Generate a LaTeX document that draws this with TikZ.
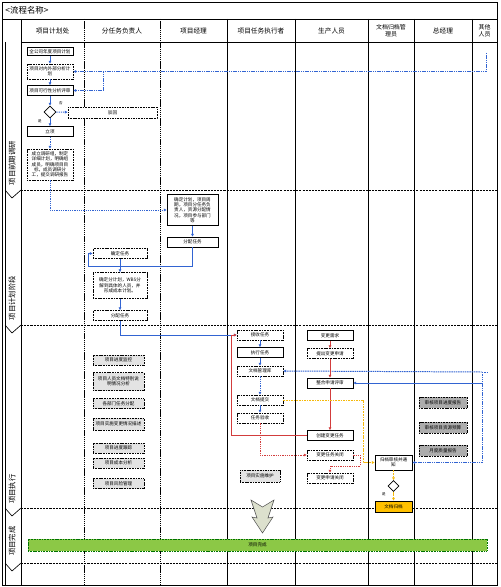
\documentclass[tikz,border=0pt]{standalone}
\usepackage{fontspec}
\setmainfont{Noto Sans CJK SC}
\usetikzlibrary{shapes.geometric, arrows.meta, positioning}
\definecolor{flowblue}{RGB}{50,100,210}
\definecolor{flowred}{RGB}{210,60,60}
\definecolor{flowyellow}{RGB}{245,185,10}
\definecolor{docorange}{RGB}{255,192,0}
\definecolor{doneGreen}{RGB}{140,200,70}
\definecolor{bigarrow}{RGB}{220,224,205}

\begin{document}
\begin{tikzpicture}[x=0.05cm, y=-0.05cm,
  box/.style={rectangle, draw=black, line width=0.9pt, fill=white, minimum width=2.3cm, minimum height=0.5cm, inner sep=1pt, align=center, font=\fontsize{6.5}{7.5}\selectfont},
  dbox/.style={box, dash pattern=on 1.5pt off 0.8pt},
  gbox/.style={dbox, fill=gray!22, minimum width=2.55cm},
  gmbox/.style={dbox, fill=gray!65, minimum width=2.4cm, minimum height=0.55cm},
  gate/.style={diamond, draw=black, line width=0.9pt, fill=white, minimum width=0.6cm, minimum height=0.6cm, inner sep=0pt},
  head/.style={align=center, font=\fontsize{9.5}{10.5}\selectfont},
  stagelabel/.style={rotate=90, font=\fontsize{10.5}{12}\selectfont},
  gatemark/.style={font=\fontsize{5}{5}\selectfont, inner sep=0pt},
  lanesep/.style={line width=0.9pt},
  lanedot/.style={line width=1.1pt, dash pattern=on 2pt off 1pt},
  stageline/.style={line width=1.1pt, dash pattern=on 3pt off 1.5pt},
  bluearr/.style={draw=flowblue, line width=1.4pt, -{Latex[length=4pt,width=4.5pt]}},
  bluedash/.style={bluearr, dash pattern=on 2pt off 1.2pt},
  redarr/.style={draw=flowred, line width=1.4pt, -{Latex[length=4pt,width=4.5pt]}},
  reddash/.style={redarr, dash pattern=on 2pt off 1.2pt},
  yellowdash/.style={draw=flowyellow, line width=1.4pt, dash pattern=on 2.5pt off 1.2pt, -{Latex[length=4pt,width=4.5pt]}}
]
\useasboundingbox (0,0) rectangle (500,587);

% frame, title, header
\draw[line width=1.4pt] (2,2) rectangle (497,585);
\draw[line width=0.9pt] (2,19) -- (497,19);
\draw[line width=0.9pt] (21,42) -- (497,42);
\draw[line width=1.1pt] (21,19) -- (21,585);
\draw[line width=0.6pt] (5,42) -- (5,585);
\node[anchor=west, font=\fontsize{12}{13}\selectfont] (title) at (3,10.5) {<流程名称>};

\foreach \x in {84,160} \draw[lanedot] (\x,19) -- (\x,585);
\foreach \x in {227,295,368,414,472} \draw[lanesep] (\x,19) -- (\x,585);

\node[head] (hplan) at (52.5,31) {项目计划处};
\node[head] (hsub) at (122,31) {分任务负责人};
\node[head] (hpm) at (193.5,31) {项目经理};
\node[head] (hexec) at (261,31) {项目任务执行者};
\node[head] (hprod) at (331.5,31) {生产人员};
\node[head, font=\fontsize{8.5}{9.5}\selectfont] (hdoc) at (391,31) {文档归档管\\理员};
\node[head] (hgm) at (443,31) {总经理};
\node[head, font=\fontsize{8.5}{9.5}\selectfont] (hother) at (484.5,31) {其他\\人员};

% stages
\foreach \y in {190,325,508,563} {
  \draw[stageline] (21,\y) -- (497,\y);
  \draw[line width=0.9pt] (5,\y) -- (12,\y+8) -- (21,\y);
}
\node[stagelabel] (st1) at (12,163) {项目前期调研};
\node[stagelabel] (st2) at (12,298) {项目计划阶段};
\node[stagelabel] (st3) at (12,489) {项目执行};
\node[stagelabel] (st4) at (12,541) {项目完成};

% 项目前期调研
\node[box, minimum height=0.4cm] (annual) at (50,51.5) {全公司年度项目计划};
\node[dbox, minimum height=0.75cm] (analysis) at (50,71.5) {项目对内外部分析计\\划};
\node[box] (feas) at (50,90.5) {项目可行性分析评审};
\node[gate] (gate) at (50,112) {};
\node[dbox, minimum width=4.45cm, minimum height=0.55cm] (reject) at (112.5,112.5) {驳回};
\node[box] (setup) at (50,131.5) {立项};
\node[dbox, minimum height=1.55cm] (team) at (50,164.5) {成立调研组，制定\\详细计划，明确组\\成员，明确项目目\\标，成员调研分\\工，提交调研报告};
\node[gatemark] (gateno) at (61,103) {否};
\node[gatemark] (gateyes) at (40,121) {是};

\coordinate (other) at (486,53);
\coordinate (jn1) at (103,71.5);

\draw[bluearr] (annual) -- (analysis);
\draw[bluearr] (analysis) -- (feas);
\draw[bluedash] (other) |- (analysis.east);
\draw[bluedash] (jn1) |- (feas.east);
\draw[bluearr] (feas) -- (gate);
\draw[bluedash] (gate) -- (reject);
\draw[bluearr] (gate) -- (setup);
\draw[bluedash] (setup) -- (team);

% 项目计划阶段
\node[box, minimum width=2.55cm, minimum height=1.55cm] (pmplan) at (192.5,210) {确定计划，项目周\\期，项目分任务负\\责人，资源分配情\\况，项目参与部门\\等};
\node[box, minimum width=2.55cm] (pmassign) at (192.5,242) {分配任务};
\node[dbox, minimum width=2.7cm] (subconfirm) at (120,253.5) {确定任务};
\node[dbox, minimum width=2.7cm, minimum height=1.3cm] (subplan) at (120,285.5) {确定分计划，WBS分\\解到具体的人员，并\\形成成本计划。};
\node[dbox, minimum width=2.7cm] (subassign) at (120,315.5) {分配任务};

\coordinate (jn2) at (88,266.5);

\draw[bluedash] (team) |- (pmplan);
\draw[bluearr] (pmplan) -- (pmassign);
\draw[bluearr] (pmassign) |- (jn2) |- (subconfirm.west);
\draw[bluearr] (subconfirm) -- (subplan);
\draw[bluearr] (subplan) -- (subassign);

% 项目执行
\node[dbox, minimum width=2.3cm] (recv) at (260,335) {接收任务};
\node[box] (exec) at (260,352.5) {执行任务};
\node[dbox] (doclib) at (260,371) {文档管理库};
\node[dbox] (docsub) at (260,400) {文档提交};
\node[dbox] (accept) at (260,418) {任务验收};
\node[gbox, minimum width=2cm, minimum height=0.6cm] (maint) at (260,476) {项目实施维护};

\node[box] (demand) at (330,335.5) {变更需求};
\node[dbox] (apply) at (330,353.5) {提出变更申请};
\node[box] (review) at (330,383) {整合申请评审};
\node[box] (create) at (330,435.5) {创建变更任务};
\node[dbox] (taskclose) at (330,455) {变更任务关闭};
\node[dbox] (applyclose) at (330,478) {变更申请关闭};

\node[box, minimum width=1.85cm, minimum height=0.75cm] (archive) at (393.5,462.5) {归档审核并通\\知};
\node[gate, minimum width=0.55cm, minimum height=0.55cm] (gate2) at (393.5,486) {};
\node[gatemark] (gate2yes) at (384,494) {是};
\node[box, minimum width=1.85cm, minimum height=0.55cm, fill=docorange] (archived) at (393.5,506.5) {文档归档};

\node[gmbox] (gm1) at (443,402.5) {审核项目进度报告};
\node[gmbox] (gm2) at (443,427.5) {审核项目资源预算};
\node[gmbox] (gm3) at (443,450.5) {月度质量报告};

\node[gbox] (rep1) at (118.5,360) {项目进度监控};
\node[gbox, minimum height=0.9cm] (rep2) at (118.5,381.5) {项目人员文档特别说\\明情况分析};
\node[gbox] (rep3) at (118.5,403.5) {各部门任务分配};
\node[gbox, minimum height=0.6cm] (rep4) at (118.5,424) {项目实施变更情况描述};
\node[gbox] (rep5) at (118.5,448) {项目进度跟踪};
\node[gbox] (rep6) at (118.5,463) {项目成本分析};
\node[gbox] (rep7) at (118.5,483.5) {项目风险管理};

\coordinate (jr1) at (231,335);
\coordinate (jr2) at (360,466);
\coordinate (jy1) at (363,462.5);
\coordinate (jn3) at (482,372);
\coordinate (jn4) at (482,383);

\draw[bluearr] (subassign) |- (recv);
\draw[bluearr] (recv) -- (exec);
\draw[bluearr] (exec) -- (doclib);
\draw[bluedash] (doclib) -- (docsub);
\draw[bluearr] (docsub) -- (accept);
\draw[bluedash] (jn3) -- (doclib.east);
\draw[bluedash, -] (jn3) -- ++(6,0);
\draw[bluedash] (jn3) |- (archive.east);
\draw[bluearr] (jn4) -- (review.east);

\draw[redarr] (demand) -- (apply);
\draw[redarr] (apply) -- (review);
\draw[redarr] (review) -- (create);
\draw[redarr] (create.west) -| (jr1) -- (recv.west);
\draw[reddash] (accept) |- (taskclose.west);
\draw[reddash] (taskclose.east) -| (jr2) -| (applyclose.north);

\draw[yellowdash] (docsub.east) -| (jy1) -- (archive.west);
\draw[yellowdash] (archive) -- (gate2);
\draw[yellowdash] (gate2) -- (archived);

\filldraw[fill=bigarrow, draw=black!70, line width=0.7pt] (251,500) -- (262.5,507) -- (274,500) -- (268,518) -- (273,517) -- (262.5,533) -- (252,517) -- (257,518) -- cycle;

% 项目完成
\node[rectangle, draw=green!45!black, dash pattern=on 1.5pt off 0.8pt, line width=0.9pt, fill=doneGreen, minimum width=22.95cm, minimum height=0.6cm, inner sep=0pt, font=\fontsize{6.5}{7.5}\selectfont] (done) at (257.5,545) {项目完成};

\end{tikzpicture}
\end{document}
